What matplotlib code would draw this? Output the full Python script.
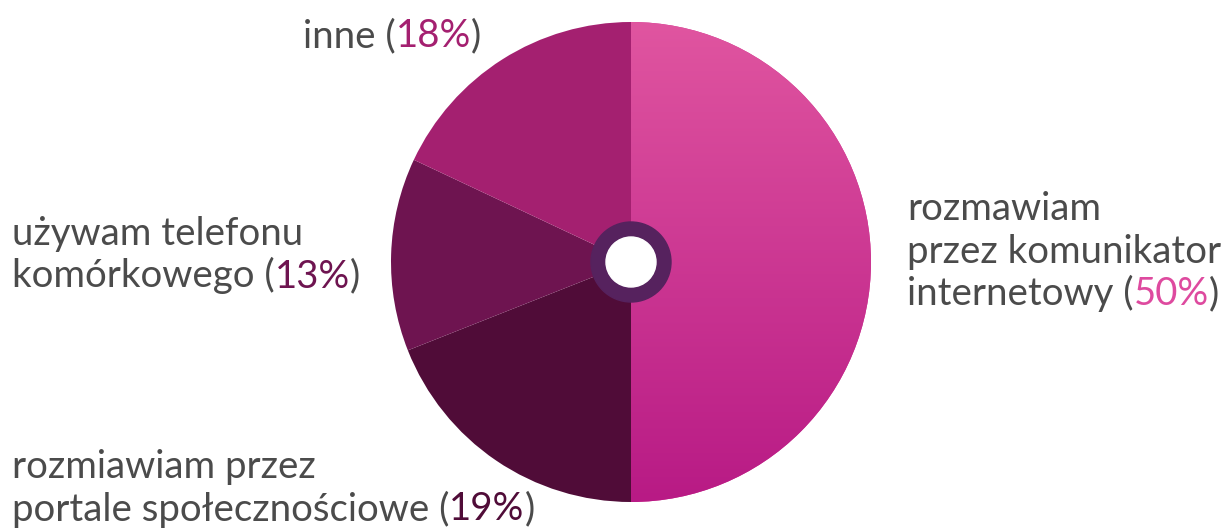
import matplotlib
matplotlib.use("Agg")
import matplotlib.pyplot as plt
import numpy as np
from matplotlib.patches import Circle
from matplotlib.colors import LinearSegmentedColormap

# slices, clockwise from 12 o'clock
shares = [50, 19, 13, 18]
slice_colors = ["#d2338f", "#500c38", "#6e1450", "#a42070"]
grad_top, grad_bottom = "#e055a0", "#b81a85"

# labels: list of (text, colour) pieces per line
GRAY = "#4b4b4b"
labels = [
    [[("rozmawiam", GRAY)],
     [("przez komunikator", GRAY)],
     [("internetowy (", GRAY), ("50%", "#de4a9f"), (")", GRAY)]],
    [[("rozmiawiam przez", GRAY)],
     [("portale społecznościowe (", GRAY), ("19%", "#500c38"), (")", GRAY)]],
    [[("używam telefonu", GRAY)],
     [("komórkowego (", GRAY), ("13%", "#6e1450"), (")", GRAY)]],
    [[("inne (", GRAY), ("18%", "#a42070"), (")", GRAY)]],
]
# left x and first-line baseline (image px, y from top)
label_pos = [(907, 220), (12, 478), (12, 245), (303, 47)]

W, H = 1231, 529
fig = plt.figure(figsize=(W / 100, H / 100), dpi=100)
ax = fig.add_axes([0, 0, 1, 1])

cx, cy, R = 631, H - 262, 240
wedges, _ = ax.pie(shares, colors=slice_colors, startangle=90, counterclock=False,
                   center=(cx, cy), radius=R, wedgeprops=dict(linewidth=0))

# vertical gradient on the big slice
cmap = LinearSegmentedColormap.from_list("g", [grad_bottom, grad_top])
grad = np.linspace(0, 1, 256).reshape(-1, 1)
im = ax.imshow(grad, cmap=cmap, extent=(cx, cx + R, cy - R, cy + R),
               origin="lower", aspect="auto", zorder=wedges[0].get_zorder() + 0.1)
im.set_clip_path(wedges[0])

ax.add_patch(Circle((cx, cy), 40, color="#56225e", zorder=5))
ax.add_patch(Circle((cx, cy), 25, color="white", zorder=6))

ax.set_xlim(0, W)
ax.set_ylim(0, H)
ax.axis("off")

fs = 27.6
line_h = 42.5
renderer = fig.canvas.get_renderer()
for lines, (x0, y0) in zip(labels, label_pos):
    for i, parts in enumerate(lines):
        x = x0
        y = H - (y0 + i * line_h)
        for txt, col in parts:
            t = ax.text(x, y, txt, color=col, fontsize=fs, family="Lato",
                        ha="left", va="baseline")
            x += t.get_window_extent(renderer).width

fig.savefig("out.png", dpi=100)
